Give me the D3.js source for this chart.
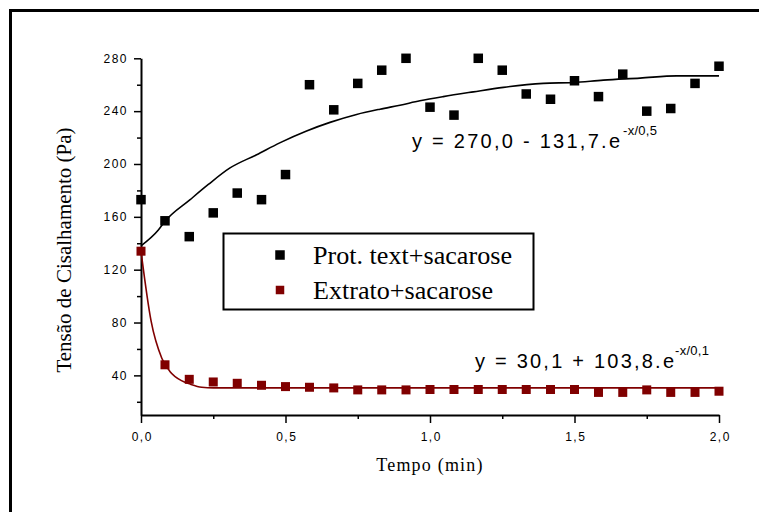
<!DOCTYPE html>
<html>
<head>
<meta charset="utf-8">
<script src="https://cdn.jsdelivr.net/npm/d3@7"></script>
<style>
  body { margin: 0; background: #fff; }
  svg { display: block; }
  .tick text { font-family: "Liberation Sans", Arial, sans-serif; font-size: 12px; letter-spacing: 1.5px; fill: #000; }
</style>
</head>
<body>
<div id="chart"></div>
<script>
// data
const TIME_MIN = [0, 0.083, 0.167, 0.25, 0.333, 0.417, 0.5, 0.583, 0.667, 0.75, 0.833, 0.917,
                  1.0, 1.083, 1.167, 1.25, 1.333, 1.417, 1.5, 1.583, 1.667, 1.75, 1.833, 1.917, 2.0];
const PROT_VALUES = [173, 157, 145, 163, 178, 173, 192, 260, 241, 261, 271, 280,
                     243, 237, 280, 271, 253, 249, 263, 251, 268, 240, 242, 261, 274];
const EXTRATO_VALUES = [134, 48, 37, 35, 34, 32.5, 31.5, 31, 30.5, 29, 29, 29,
                        29.3, 29.3, 29.3, 29.3, 29.3, 29.3, 29.3, 27.1, 27.1, 29, 27.1, 27.1, 28];

// fitted curves
const PROT_FIT_TIME = [0, 0.06, 0.083, 0.17, 0.233, 0.308, 0.4, 0.48, 0.573, 0.654, 0.746, 0.827,
                       0.896, 0.965, 1.046, 1.15, 1.254, 1.392, 1.496, 1.6, 1.727, 1.853, 2.0];
const PROT_FIT_VALUES = [138, 150, 156.6, 173, 184.5, 197, 207, 216, 225, 231.5, 237.5, 241.5,
                         244.5, 247.8, 251, 254.6, 258, 261, 261.7, 263.5, 265, 266.7, 266.7];
const EXTRATO_FIT_TIME = [0, 0.035, 0.072, 0.1, 0.14, 0.17, 0.21, 0.25, 2.0];
const EXTRATO_FIT_VALUES = [134, 81, 53, 43, 36, 33.4, 31, 30.5, 30.5];

const SERIES_NAMES = ["Prot. text+sacarose", "Extrato+sacarose"];
const X_TICKS = [0, 0.5, 1.0, 1.5, 2.0];
const X_MINOR = [0.25, 0.75, 1.25, 1.75];
const Y_TICKS = [40, 80, 120, 160, 200, 240, 280];
const Y_MINOR = [20, 60, 100, 140, 180, 220, 260];

const FRAME_WIDTH = 759;
const FRAME_HEIGHT = 512;
const RED = "#800000";

const FRAME = d3.select("#chart")
                .append("svg")
                  .attr("width", FRAME_WIDTH)
                  .attr("height", FRAME_HEIGHT);

// outer border (runs off the right and bottom)
FRAME.append("rect")
      .attr("x", 10.5).attr("y", 10.5)
      .attr("width", 900).attr("height", 700)
      .attr("fill", "none")
      .attr("stroke", "#000")
      .attr("stroke-width", 3);

const X_SCALE = d3.scaleLinear().domain([0, 2]).range([141, 719]);
const Y_SCALE = d3.scaleLinear().domain([10, 280]).range([415, 58.3]);

const commaFmt = d => d3.format(".1f")(d).replace(".", ",");

// minor ticks
FRAME.append("g")
      .attr("transform", "translate(0,415)")
      .call(d3.axisBottom(X_SCALE).tickValues(X_MINOR).tickSize(4).tickFormat(""))
      .call(g => g.select(".domain").remove())
      .selectAll("line").attr("stroke-width", 1.5);
FRAME.append("g")
      .attr("transform", "translate(141,0)")
      .call(d3.axisLeft(Y_SCALE).tickValues(Y_MINOR).tickSize(4).tickFormat(""))
      .call(g => g.select(".domain").remove())
      .selectAll("line").attr("stroke-width", 1.5);

// x-axis
const X_AXIS = FRAME.append("g")
      .attr("transform", "translate(0,415)")
      .call(d3.axisBottom(X_SCALE).tickValues(X_TICKS).tickSize(8).tickSizeOuter(0)
              .tickPadding(9).tickFormat(commaFmt));
X_AXIS.selectAll("line").attr("stroke-width", 1.5);
X_AXIS.select(".domain").attr("stroke-width", 2);
X_AXIS.selectAll("text").attr("dx", "0.75px");

// y-axis
const Y_AXIS = FRAME.append("g")
      .attr("transform", "translate(141,0)")
      .call(d3.axisLeft(Y_SCALE).tickValues(Y_TICKS).tickSize(7).tickSizeOuter(0)
              .tickPadding(6));
Y_AXIS.selectAll("line").attr("stroke-width", 1.5);
Y_AXIS.select(".domain").attr("stroke-width", 2);

// axis titles
FRAME.append("text")
      .attr("x", 430).attr("y", 471)
      .attr("text-anchor", "middle")
      .style("font-family", "'Liberation Serif', 'Times New Roman', serif")
      .style("font-size", "18px")
      .style("letter-spacing", "1.2px")
      .text("Tempo (min)");

FRAME.append("text")
      .attr("transform", "translate(71,250) rotate(-90)")
      .attr("text-anchor", "middle")
      .style("font-family", "'Liberation Serif', 'Times New Roman', serif")
      .style("font-size", "21px")
      .text("Tensão de Cisalhamento (Pa)");

// fitted lines
const line = d3.line()
                .curve(d3.curveMonotoneX)
                .x(d => X_SCALE(d[0]))
                .y(d => Y_SCALE(d[1]));

FRAME.append("path")
      .datum(d3.zip(PROT_FIT_TIME, PROT_FIT_VALUES))
      .attr("d", line)
      .attr("fill", "none")
      .attr("stroke", "#000")
      .attr("stroke-width", 1.6);

FRAME.append("path")
      .datum(d3.zip(EXTRATO_FIT_TIME, EXTRATO_FIT_VALUES))
      .attr("d", line)
      .attr("fill", "none")
      .attr("stroke", RED)
      .attr("stroke-width", 1.6);

// points
const SIZE_BLACK = 9.5;
const SIZE_RED = 9;

FRAME.selectAll(".prot")
      .data(d3.zip(TIME_MIN, PROT_VALUES))
      .enter().append("rect")
        .attr("class", "prot")
        .attr("x", d => X_SCALE(d[0]) - SIZE_BLACK / 2)
        .attr("y", d => Y_SCALE(d[1]) - SIZE_BLACK / 2)
        .attr("width", SIZE_BLACK)
        .attr("height", SIZE_BLACK)
        .attr("fill", "#000");

FRAME.selectAll(".extrato")
      .data(d3.zip(TIME_MIN, EXTRATO_VALUES))
      .enter().append("rect")
        .attr("class", "extrato")
        .attr("x", d => X_SCALE(d[0]) - SIZE_RED / 2)
        .attr("y", d => Y_SCALE(d[1]) - SIZE_RED / 2)
        .attr("width", SIZE_RED)
        .attr("height", SIZE_RED)
        .attr("fill", RED);

// equations
function equation(x, y, main, mainLen, sup, supDx, supDy) {
  const g = FRAME.append("g");
  g.append("text")
    .attr("x", x).attr("y", y)
    .attr("textLength", mainLen)
    .attr("lengthAdjust", "spacing")
    .style("font-family", "'Liberation Sans', Arial, sans-serif")
    .style("font-size", "20px")
    .text(main);
  g.append("text")
    .attr("x", x + mainLen + supDx).attr("y", y + supDy)
    .style("font-family", "'Liberation Sans', Arial, sans-serif")
    .style("font-size", "13px")
    .style("letter-spacing", "0.3px")
    .text(sup);
}
equation(412, 148, "y = 270,0 - 131,7.e", 208, "-x/0,5", 3, -13);
equation(475, 368, "y = 30,1 + 103,8.e", 199, "-x/0,1", 1, -13);

// legend
const LEGEND = FRAME.append("g");
LEGEND.append("rect")
      .attr("x", 223.5).attr("y", 233.5)
      .attr("width", 310).attr("height", 76)
      .attr("fill", "#fff")
      .attr("stroke", "#000")
      .attr("stroke-width", 2);

const LEGEND_COLORS = ["#000", RED];
const LEGEND_SIZES = [9.5, 8.5];
const LEGEND_Y = [255, 290];
const LEGEND_LEN = [199, 180];

SERIES_NAMES.forEach((name, i) => {
  LEGEND.append("rect")
        .attr("x", 280 - LEGEND_SIZES[i] / 2)
        .attr("y", LEGEND_Y[i] - LEGEND_SIZES[i] / 2)
        .attr("width", LEGEND_SIZES[i])
        .attr("height", LEGEND_SIZES[i])
        .attr("fill", LEGEND_COLORS[i]);
  LEGEND.append("text")
        .attr("x", 313).attr("y", LEGEND_Y[i] + 9)
        .attr("textLength", LEGEND_LEN[i])
        .attr("lengthAdjust", "spacingAndGlyphs")
        .style("font-family", "'Liberation Serif', 'Times New Roman', serif")
        .style("font-size", "25px")
        .text(name);
});
</script>
</body>
</html>
